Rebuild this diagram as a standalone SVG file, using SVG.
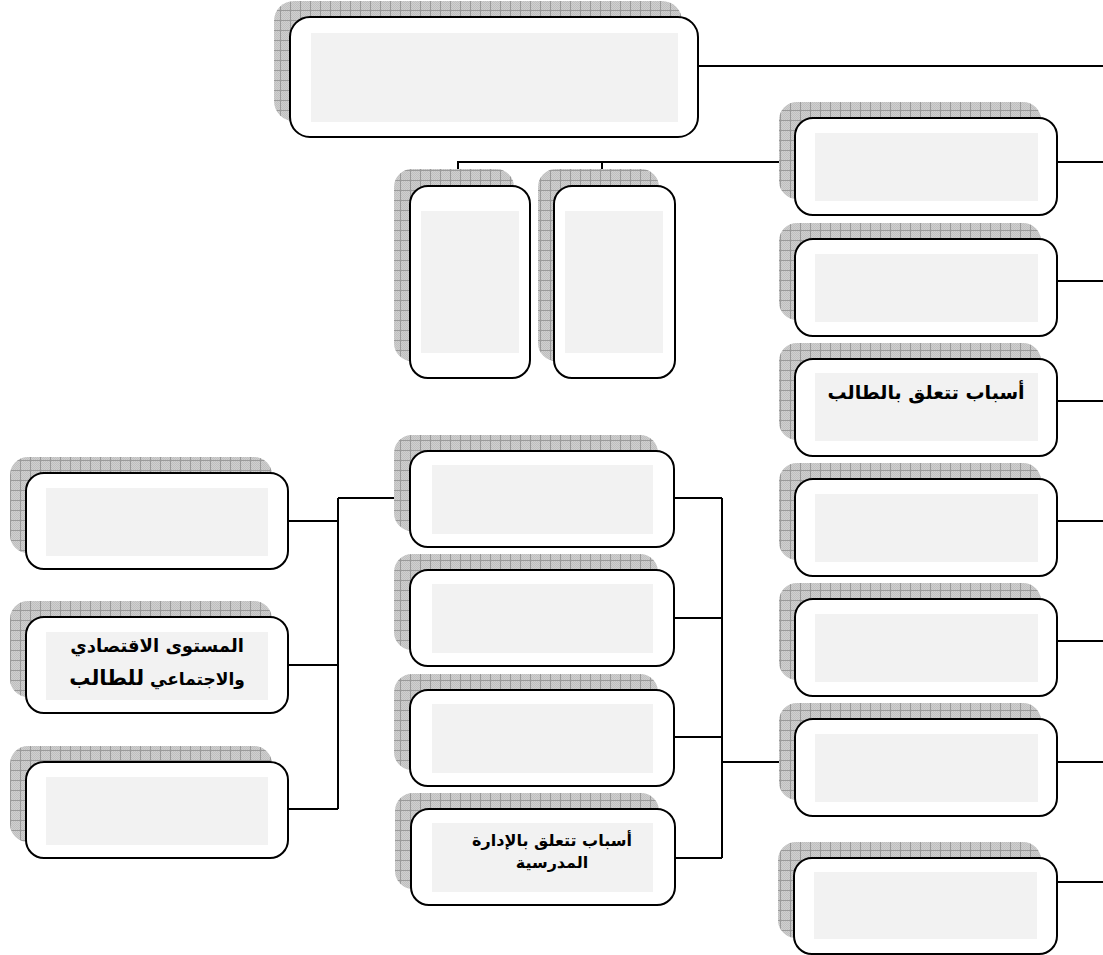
<svg xmlns="http://www.w3.org/2000/svg" width="1103" height="955" viewBox="0 0 1103 955">
<defs>
<pattern id="dot" width="2" height="2" patternUnits="userSpaceOnUse">
<rect width="2" height="2" fill="#cfcfcf"/>
<rect width="1" height="1" fill="#bfbfbf"/>
<rect x="1" y="1" width="1" height="1" fill="#bfbfbf"/>
</pattern>
<pattern id="grid" width="10" height="10" patternUnits="userSpaceOnUse">
<rect width="10" height="10" fill="url(#dot)"/>
<path d="M0 0.5H10M0.5 0V10" stroke="#9a9a9a" stroke-width="1" fill="none"/>
</pattern>
</defs>
<style>
.sh{fill:url(#grid);}
.bx{fill:#ffffff;stroke:#000000;stroke-width:2;}
.in{fill:#f2f2f2;}
.ln{fill:none;stroke:#000000;stroke-width:2;}
.t{font-family:'DejaVu Sans',sans-serif;font-weight:bold;fill:#000000;text-anchor:middle;}
</style>
<rect width="1103" height="955" fill="#ffffff"/>

<g id="connectors">
<path class="ln" d="M698 66H1103"/>
<path class="ln" d="M1057 162H1103M1057 281H1103M1057 401H1103M1057 521H1103M1057 641H1103M1057 762H1103M1057 882H1103"/>
<path class="ln" d="M795 162H458V186M602 162V186"/>
<path class="ln" d="M674 498H722M674 618H722M674 737H722M674 858H722M722 498V858M722 762H795"/>
<path class="ln" d="M288 521H338M288 665H338M288 809H338M338 498V809M338 498H410"/>
</g>

<g id="top">
<rect class="sh" x="274" y="1" width="408" height="120" rx="20"/>
<rect class="bx" x="290" y="17" width="408" height="120" rx="20"/>
<rect class="in" x="311" y="33" width="367" height="89"/>
</g>

<g id="tallA">
<rect class="sh" x="394" y="169" width="120" height="192" rx="18"/>
<rect class="bx" x="410" y="186" width="120" height="192" rx="18"/>
<rect class="in" x="421" y="211" width="98" height="142"/>
</g>
<g id="tallB">
<rect class="sh" x="538" y="169" width="121" height="192" rx="18"/>
<rect class="bx" x="554" y="186" width="121" height="192" rx="18"/>
<rect class="in" x="565" y="211" width="98" height="142"/>
</g>

<g id="r1">
<rect class="sh" x="779" y="102" width="262" height="97" rx="18"/>
<rect class="bx" x="795" y="118" width="262" height="97" rx="18"/>
<rect class="in" x="815" y="133" width="223" height="68"/>
</g>
<g id="r2">
<rect class="sh" x="779" y="223" width="262" height="97" rx="18"/>
<rect class="bx" x="795" y="239" width="262" height="97" rx="18"/>
<rect class="in" x="815" y="254" width="223" height="68"/>
</g>
<g id="r3">
<rect class="sh" x="779" y="343" width="262" height="97" rx="18"/>
<rect class="bx" x="795" y="359" width="262" height="97" rx="18"/>
<rect class="in" x="815" y="373" width="223" height="68"/>
<text class="t" x="926" y="399" font-size="19" direction="rtl">أسباب تتعلق بالطالب</text>
</g>
<g id="r4">
<rect class="sh" x="779" y="463" width="262" height="97" rx="18"/>
<rect class="bx" x="795" y="479" width="262" height="97" rx="18"/>
<rect class="in" x="815" y="494" width="223" height="68"/>
</g>
<g id="r5">
<rect class="sh" x="779" y="583" width="262" height="97" rx="18"/>
<rect class="bx" x="795" y="599" width="262" height="97" rx="18"/>
<rect class="in" x="815" y="614" width="223" height="68"/>
</g>
<g id="r6">
<rect class="sh" x="779" y="703" width="262" height="97" rx="18"/>
<rect class="bx" x="795" y="719" width="262" height="97" rx="18"/>
<rect class="in" x="815" y="734" width="223" height="68"/>
</g>
<g id="r7">
<rect class="sh" x="778" y="842" width="263" height="96" rx="18"/>
<rect class="bx" x="794" y="858" width="263" height="96" rx="18"/>
<rect class="in" x="814" y="872" width="223" height="67"/>
</g>

<g id="c1">
<rect class="sh" x="394" y="435" width="264" height="96" rx="18"/>
<rect class="bx" x="410" y="451" width="264" height="96" rx="18"/>
<rect class="in" x="432" y="465" width="221" height="69"/>
</g>
<g id="c2">
<rect class="sh" x="394" y="554" width="264" height="96" rx="18"/>
<rect class="bx" x="410" y="570" width="264" height="96" rx="18"/>
<rect class="in" x="432" y="584" width="221" height="69"/>
</g>
<g id="c3">
<rect class="sh" x="394" y="674" width="264" height="96" rx="18"/>
<rect class="bx" x="410" y="690" width="264" height="96" rx="18"/>
<rect class="in" x="432" y="704" width="221" height="69"/>
</g>
<g id="c4">
<rect class="sh" x="395" y="793" width="264" height="96" rx="18"/>
<rect class="bx" x="411" y="809" width="264" height="96" rx="18"/>
<rect class="in" x="432" y="823" width="221" height="69"/>
<text class="t" x="552" y="846" font-size="16" direction="rtl">أسباب تتعلق بالإدارة</text>
<text class="t" x="552" y="868" font-size="16" direction="rtl">المدرسية</text>
</g>

<g id="l1">
<rect class="sh" x="10" y="457" width="262" height="96" rx="18"/>
<rect class="bx" x="26" y="473" width="262" height="96" rx="18"/>
<rect class="in" x="46" y="488" width="222" height="68"/>
</g>
<g id="l2">
<rect class="sh" x="10" y="601" width="262" height="96" rx="18"/>
<rect class="bx" x="26" y="617" width="262" height="96" rx="18"/>
<rect class="in" x="46" y="632" width="222" height="68"/>
<text class="t" x="157" y="652" font-size="18" direction="rtl">المستوى الاقتصادي</text>
<text class="t" x="157" y="685" font-size="17" direction="rtl">والاجتماعي <tspan font-size="21">للطالب</tspan></text>
</g>
<g id="l3">
<rect class="sh" x="10" y="746" width="262" height="96" rx="18"/>
<rect class="bx" x="26" y="762" width="262" height="96" rx="18"/>
<rect class="in" x="46" y="777" width="222" height="68"/>
</g>
</svg>
